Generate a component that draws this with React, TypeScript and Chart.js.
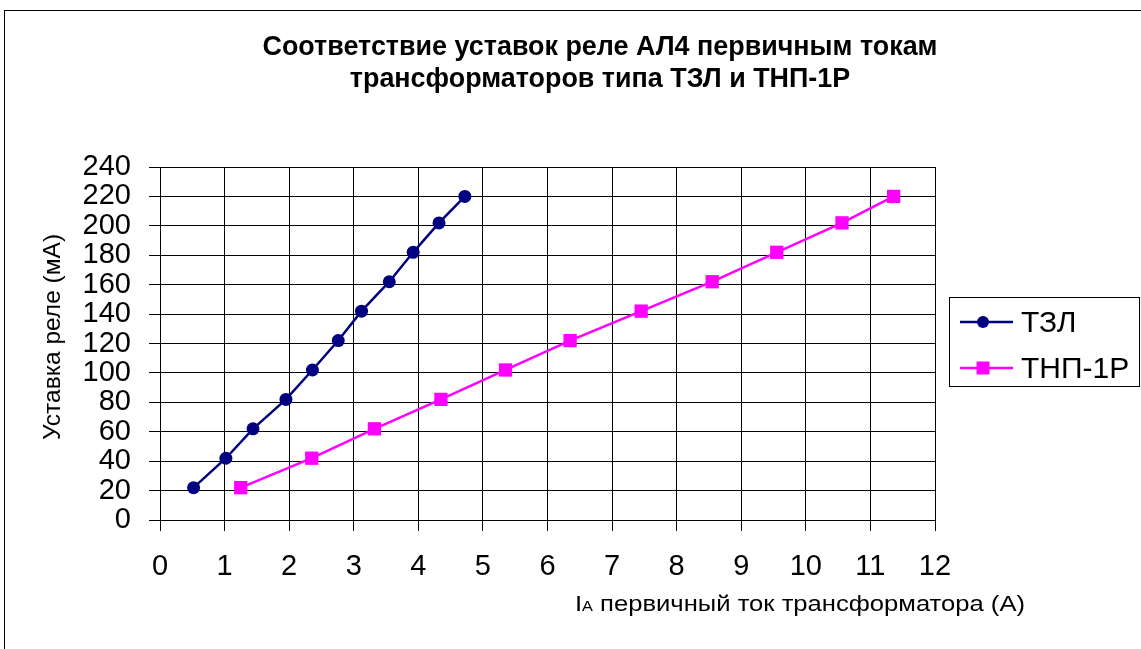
import React, { useEffect, useRef } from "react";
import { Chart, registerables } from "chart.js";
Chart.register(...registerables);

const tzlX = [0.52, 1.02, 1.44, 1.95, 2.36, 2.76, 3.12, 3.55, 3.92, 4.32, 4.72];
const tzlY = [22, 42, 62, 82, 102, 122, 142, 162, 182, 202, 220];
const tnpX = [1.25, 2.35, 3.32, 4.35, 5.35, 6.35, 7.45, 8.55, 9.55, 10.56, 11.36];
const tnpY = [22, 42, 62, 82, 102, 122, 142, 162, 182, 202, 220];
const seriesNames = ["ТЗЛ", "ТНП-1Р"];
const titleLines = [
  "Соответствие уставок реле АЛ4 первичным токам",
  "трансформаторов типа ТЗЛ и ТНП-1Р",
];
const yAxisTitle = "Уставка реле (мА)";
const xAxisTitleMain = "I";
const xAxisTitleSub = "A";
const xAxisTitleRest = " первичный ток трансформатора (А)";

const FONT = "'Liberation Sans', Arial, sans-serif";
const NAVY = "#000080";
const MAGENTA = "#FF00FF";

function drawScaledCentered(ctx: any, text: string, cx: number, cy: number, targetW: number) {
  const w = ctx.measureText(text).width;
  const sx = targetW / w;
  ctx.save();
  ctx.translate(cx, cy);
  ctx.scale(sx, 1);
  ctx.textAlign = "center";
  ctx.fillText(text, 0, 0);
  ctx.restore();
}

const decorPlugin = {
  id: "decor",
  afterDraw(chart: any) {
    const ctx = chart.ctx;
    const ca = chart.chartArea;
    ctx.save();
    ctx.fillStyle = "#000";
    // title
    ctx.font = `bold 27px ${FONT}`;
    ctx.textBaseline = "middle";
    drawScaledCentered(ctx, titleLines[0], 600, 48, 675);
    const ratio = 675 / ctx.measureText(titleLines[0]).width;
    ctx.save();
    ctx.translate(600, 80);
    ctx.scale(ratio, 1);
    ctx.textAlign = "center";
    ctx.fillText(titleLines[1], 0, 0);
    ctx.restore();
    // y axis title
    ctx.save();
    ctx.translate(53, 337);
    ctx.rotate(-Math.PI / 2);
    ctx.font = `24.5px ${FONT}`;
    ctx.textAlign = "center";
    ctx.fillText(yAxisTitle, 0, 0);
    ctx.restore();
    // x axis title (horizontally stretched)
    ctx.textBaseline = "alphabetic";
    ctx.font = `22px ${FONT}`;
    const wMain = ctx.measureText(xAxisTitleMain).width;
    const wRest = ctx.measureText(xAxisTitleRest).width;
    ctx.font = `14px ${FONT}`;
    const wSub = ctx.measureText(xAxisTitleSub).width;
    const total = wMain + wSub + wRest;
    const sx = 450 / total;
    ctx.save();
    ctx.translate(800 - 225, 611);
    ctx.scale(sx, 1);
    ctx.textAlign = "left";
    let x = 0;
    ctx.font = `22px ${FONT}`;
    ctx.fillText(xAxisTitleMain, x, 0);
    x += wMain;
    ctx.font = `14px ${FONT}`;
    ctx.fillText(xAxisTitleSub, x, 0);
    x += wSub;
    ctx.font = `22px ${FONT}`;
    ctx.fillText(xAxisTitleRest, x, 0);
    ctx.restore();
    // legend
    const lx = ca.right + 14;
    const ly = 297;
    ctx.strokeStyle = "#000";
    ctx.lineWidth = 1;
    ctx.strokeRect(lx + 0.5, ly + 0.5, 1139 - lx, 89);
    const items = [
      { name: seriesNames[0], color: NAVY, style: "circle" },
      { name: seriesNames[1], color: MAGENTA, style: "rect" },
    ];
    items.forEach((it, i) => {
      const cy = 322 + i * 46;
      ctx.strokeStyle = it.color;
      ctx.fillStyle = it.color;
      ctx.lineWidth = 2.5;
      ctx.beginPath();
      ctx.moveTo(lx + 11, cy);
      ctx.lineTo(lx + 64, cy);
      ctx.stroke();
      ctx.beginPath();
      if (it.style === "circle") {
        ctx.arc(lx + 34, cy, 6, 0, Math.PI * 2);
      } else {
        ctx.rect(lx + 34 - 6.5, cy - 6.5, 13, 13);
      }
      ctx.fill();
      ctx.fillStyle = "#000";
      ctx.font = `30px ${FONT}`;
      ctx.textAlign = "left";
      ctx.textBaseline = "middle";
      ctx.fillText(it.name, lx + 72, cy + 2);
    });
    ctx.restore();
  },
};

export default function App() {
  const ref = useRef<HTMLCanvasElement | null>(null);
  useEffect(() => {
    if (!ref.current) return;
    const chart = new Chart(ref.current, {
      type: "line",
      data: {
        datasets: [
          {
            label: seriesNames[0],
            data: tzlX.map((x, i) => ({ x, y: tzlY[i] })),
            borderColor: NAVY,
            backgroundColor: NAVY,
            borderWidth: 2.5,
            pointStyle: "circle",
            pointRadius: 6.5,
            pointBorderWidth: 0,
            pointBackgroundColor: NAVY,
          },
          {
            label: seriesNames[1],
            data: tnpX.map((x, i) => ({ x, y: tnpY[i] })),
            borderColor: MAGENTA,
            backgroundColor: MAGENTA,
            borderWidth: 2.5,
            pointStyle: "rect",
            pointRadius: 9.4,
            pointBorderWidth: 0,
            pointBackgroundColor: MAGENTA,
          },
        ],
      },
      options: {
        responsive: false,
        animation: false,
        layout: { padding: { top: 167, right: 206, left: 0, bottom: 0 } },
        plugins: {
          legend: { display: false },
          title: { display: false },
          tooltip: { enabled: false },
        },
        scales: {
          x: {
            type: "linear",
            min: 0,
            max: 12,
            ticks: {
              stepSize: 1,
              autoSkip: false,
              font: { size: 29, family: FONT },
              color: "#000",
              padding: 19,
              maxRotation: 0,
            },
            grid: { color: "#000", lineWidth: 1, tickLength: 11, drawTicks: true },
            border: { display: true, color: "#000", width: 1 },
            afterFit: (s: any) => {
              s.height = 129;
            },
          },
          y: {
            type: "linear",
            min: 0,
            max: 240,
            ticks: {
              stepSize: 20,
              autoSkip: false,
              font: { size: 29, family: FONT, lineHeight: 1 },
              color: "#000",
              padding: 18,
            },
            grid: { color: "#000", lineWidth: 1, tickLength: 11, drawTicks: true },
            border: { display: true, color: "#000", width: 1 },
            afterFit: (s: any) => {
              s.width = 160;
            },
          },
        },
      },
      plugins: [decorPlugin],
    } as any);
    return () => chart.destroy();
  }, []);
  return (
    <div
      style={{
        position: "fixed",
        left: 0,
        top: 0,
        width: 1141,
        height: 649,
        overflow: "hidden",
        background: "#fff",
      }}
    >
      <div
        style={{
          position: "absolute",
          left: 4,
          top: 10,
          width: 1200,
          height: 700,
          border: "1px solid #000",
          boxSizing: "border-box",
        }}
      />
      <canvas
        ref={ref}
        width={1141}
        height={649}
        style={{ position: "absolute", left: 0, top: 0 }}
      />
    </div>
  );
}
